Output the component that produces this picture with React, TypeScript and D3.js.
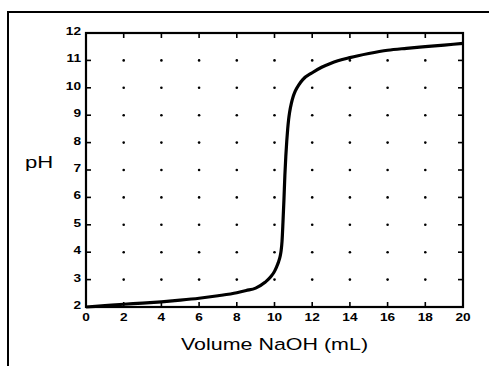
import * as d3 from "d3";
import { useRef, useEffect } from "react";

// titration curve
const volume = [0, 1, 2, 3, 4, 5, 6, 7, 8, 8.5, 9, 9.5, 9.8, 10, 10.1, 10.2, 10.3, 10.35, 10.4, 10.45, 10.5, 10.55, 10.6, 10.65, 10.7, 10.75, 10.8, 10.9, 11, 11.1, 11.3, 11.5, 12, 12.5, 13, 14, 15, 16, 17, 18, 19, 20];
const pH = [2.0, 2.05, 2.1, 2.14, 2.19, 2.25, 2.32, 2.41, 2.52, 2.6, 2.69, 2.9, 3.1, 3.3, 3.45, 3.62, 3.85, 4.05, 4.4, 5.1, 5.9, 6.8, 7.5, 8.05, 8.5, 8.85, 9.1, 9.45, 9.7, 9.88, 10.12, 10.3, 10.55, 10.75, 10.9, 11.1, 11.25, 11.37, 11.44, 11.5, 11.56, 11.62];
const xTicks = [0, 2, 4, 6, 8, 10, 12, 14, 16, 18, 20];
const yTicks = [2, 3, 4, 5, 6, 7, 8, 9, 10, 11, 12];

const W = 489;
const H = 366;
const FONT = "'Liberation Sans', Arial, sans-serif";

function App() {
    const svgRef = useRef(null);

    useEffect(() => {
        const svg = d3.select(svgRef.current);
        svg.selectAll("*").remove();

        const x = d3.scaleLinear().domain([0, 20]).range([86, 463]);
        const y = d3.scaleLinear().domain([2, 12]).range([307, 33]);

        // scan frame
        svg.append("path")
            .attr("d", `M8,${H} L8,12 L${W},12`)
            .attr("fill", "none")
            .attr("stroke", "#000")
            .attr("stroke-width", 2);

        // dots at grid intersections
        const inner = [];
        xTicks.slice(1, -1).forEach(vx => yTicks.slice(1, -1).forEach(vy => inner.push([vx, vy])));
        svg.selectAll(".dot")
            .data(inner)
            .join("circle")
            .attr("class", "dot")
            .attr("cx", d => x(d[0]))
            .attr("cy", d => y(d[1]))
            .attr("r", 1.3)
            .attr("fill", "#000");

        // ticks, inward on all sides
        const tl = 5;
        const g = svg.append("g").attr("stroke", "#000").attr("stroke-width", 1.6);
        xTicks.forEach(v => {
            g.append("line").attr("x1", x(v)).attr("x2", x(v)).attr("y1", y(2)).attr("y2", y(2) - tl);
            g.append("line").attr("x1", x(v)).attr("x2", x(v)).attr("y1", y(12)).attr("y2", y(12) + tl);
        });
        yTicks.forEach(v => {
            g.append("line").attr("x1", x(0)).attr("x2", x(0) + tl).attr("y1", y(v)).attr("y2", y(v));
            g.append("line").attr("x1", x(20)).attr("x2", x(20) - tl).attr("y1", y(v)).attr("y2", y(v));
        });

        svg.append("rect")
            .attr("x", x(0))
            .attr("y", y(12))
            .attr("width", x(20) - x(0))
            .attr("height", y(2) - y(12))
            .attr("fill", "none")
            .attr("stroke", "#000")
            .attr("stroke-width", 2.2);

        // curve
        const line = d3.line()
            .x(d => x(d[0]))
            .y(d => y(d[1]))
            .curve(d3.curveMonotoneX);
        svg.append("path")
            .datum(volume.map((v, i) => [v, pH[i]]))
            .attr("d", line)
            .attr("fill", "none")
            .attr("stroke", "#000")
            .attr("stroke-width", 3.2)
            .attr("stroke-linejoin", "round");

        // tick labels (scan is stretched sideways)
        svg.selectAll(".xl")
            .data(xTicks)
            .join("text")
            .attr("class", "xl")
            .attr("transform", d => `translate(${x(d)},${y(2) + 14}) scale(1.3,1)`)
            .attr("text-anchor", "middle")
            .attr("font-family", FONT)
            .attr("font-weight", "bold")
            .attr("font-size", 10.5)
            .text(d => d);

        svg.selectAll(".yl")
            .data(yTicks)
            .join("text")
            .attr("class", "yl")
            .attr("transform", d => `translate(${x(0) - 5},${y(d) + 2}) scale(1.3,1)`)
            .attr("text-anchor", "end")
            .attr("font-family", FONT)
            .attr("font-weight", "bold")
            .attr("font-size", 10.5)
            .text(d => d);

        svg.append("text")
            .attr("transform", `translate(25,168) scale(1.3,1)`)
            .attr("font-family", FONT)
            .attr("font-size", 17)
            .text("pH");

        svg.append("text")
            .attr("transform", `translate(${(x(0) + x(20)) / 2},350) scale(1.3,1)`)
            .attr("text-anchor", "middle")
            .attr("font-family", FONT)
            .attr("font-size", 16.5)
            .text("Volume NaOH (mL)");
    }, []);

    return (
        <svg ref={svgRef} width={W} height={H} style={{ position: "absolute", left: 0, top: 0, background: "#fff" }}></svg>
    );
}

export default App;
